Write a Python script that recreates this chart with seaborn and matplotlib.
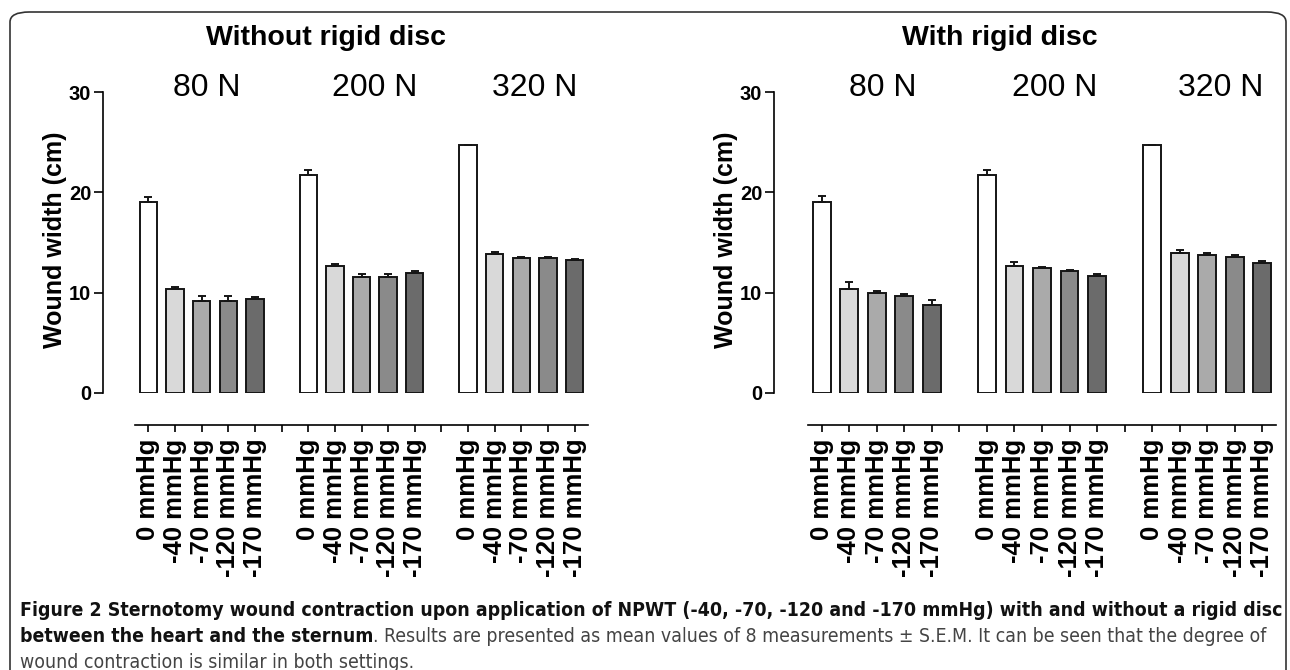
import matplotlib
matplotlib.use("Agg")
import matplotlib.pyplot as plt
import seaborn as sns
import pandas as pd
import numpy as np
from matplotlib.patches import FancyBboxPatch

# ---------------- data ----------------
forces = ["80 N", "200 N", "320 N"]
pressures = ["0 mmHg", "-40 mmHg", "-70 mmHg", "-120 mmHg", "-170 mmHg"]
panel_titles = ["Without rigid disc", "With rigid disc"]
y_label = "Wound width (cm)"
y_ticks = [0, 10, 20, 30]

without_mean_80 = [19.0, 10.35, 9.15, 9.15, 9.4]
without_sem_80 = [0.55, 0.22, 0.5, 0.5, 0.15]
without_mean_200 = [21.75, 12.7, 11.6, 11.6, 12.0]
without_sem_200 = [0.45, 0.2, 0.25, 0.25, 0.2]
without_mean_320 = [24.7, 13.9, 13.5, 13.5, 13.3]
without_sem_320 = [0.05, 0.17, 0.08, 0.08, 0.08]

with_mean_80 = [19.0, 10.35, 10.0, 9.7, 8.8]
with_sem_80 = [0.6, 0.7, 0.15, 0.15, 0.45]
with_mean_200 = [21.75, 12.65, 12.45, 12.15, 11.7]
with_sem_200 = [0.45, 0.4, 0.15, 0.15, 0.12]
with_mean_320 = [24.7, 13.95, 13.8, 13.6, 13.0]
with_sem_320 = [0.05, 0.3, 0.15, 0.15, 0.15]

bar_colors = ["#ffffff", "#d9d9d9", "#aaaaaa", "#8a8a8a", "#6b6b6b"]

caption_bold1 = ("Figure 2 Sternotomy wound contraction upon application of NPWT "
                 "(-40, -70, -120 and -170 mmHg) with and without a rigid disc")
caption_bold2 = "between the heart and the sternum"
caption_norm2 = (". Results are presented as mean values of 8 measurements \u00b1 S.E.M. "
                 "It can be seen that the degree of")
caption_norm3 = "wound contraction is similar in both settings."


def make_df(means, sems):
    rows = []
    for f, ms, ss in zip(forces, means, sems):
        for p, m, s in zip(pressures, ms, ss):
            rows.append({"slot": f"{f}|{p}", "force": f, "pressure": p,
                         "mean": m, "sem": s})
    return pd.DataFrame(rows)


df_without = make_df([without_mean_80, without_mean_200, without_mean_320],
                     [without_sem_80, without_sem_200, without_sem_320])
df_with = make_df([with_mean_80, with_mean_200, with_mean_320],
                  [with_sem_80, with_sem_200, with_sem_320])

order = []
for i, f in enumerate(forces):
    order += [f"{f}|{p}" for p in pressures]
    if i < len(forces) - 1:
        order.append(f"gap{i}")

# ---------------- style ----------------
sns.set_theme(style="ticks")
plt.rcParams["font.family"] = ["Liberation Sans", "DejaVu Sans"]
plt.rcParams["axes.edgecolor"] = "black"
plt.rcParams["xtick.color"] = "black"
plt.rcParams["ytick.color"] = "black"
plt.rcParams["text.color"] = "black"

W, H = 1290, 670
fig = plt.figure(figsize=(W / 100, H / 100), dpi=100)


def fx(px):
    return px / W


def fy(py):
    return 1 - py / H


panels = [
    dict(df=df_without, x0=135, x1=588, yoff=32, title=panel_titles[0],
         title_x=326, ylab_x=55, lab_shift=[0.2, 0.5, 0.5]),
    dict(df=df_with, x0=808, x1=1276, yoff=34, title=panel_titles[1],
         title_x=1000, ylab_x=726, lab_shift=[0.2, 0.45, 0.5]),
]
y_top, y_bot = 92, 393

for p in panels:
    ax = fig.add_axes([fx(p["x0"]), fy(y_bot), fx(p["x1"] - p["x0"]),
                       (y_bot - y_top) / H])
    df = p["df"]
    sns.barplot(data=df, x="slot", y="mean", hue="pressure", hue_order=pressures,
                palette=bar_colors, order=order, dodge=False, width=0.65,
                errorbar=None, edgecolor="#151515", linewidth=1.4,
                legend=False, ax=ax)
    pos = [order.index(s) for s in df["slot"]]
    ax.errorbar(pos, df["mean"], yerr=[np.zeros(len(df)), df["sem"].values],
                fmt="none", ecolor="#151515", elinewidth=1.4, capsize=2.6,
                capthick=1.4, zorder=3)
    sns.despine(ax=ax)
    ax.spines["left"].set_position(("outward", p["yoff"] * 0.72))
    ax.spines["bottom"].set_position(("outward", 23))
    ax.set_xlim(-0.5, len(order) - 0.5)
    ax.set_ylim(0, 30)
    ax.spines["left"].set_bounds(0, 30)
    for sp in ("left", "bottom"):
        ax.spines[sp].set_linewidth(1.2)
    ax.set_yticks(y_ticks)
    ax.set_yticklabels([str(t) for t in y_ticks])
    ax.set_xticks(range(len(order)))
    ax.set_xticklabels([s.split("|")[1] if "|" in s else "" for s in order])
    ax.tick_params(axis="y", direction="out", length=6.5, width=1.2, pad=2,
                   labelsize=14.5)
    ax.tick_params(axis="x", direction="out", length=5, width=1.2, pad=5,
                   labelsize=18.5, labelrotation=90)
    for lab in ax.get_xticklabels() + ax.get_yticklabels():
        lab.set_fontweight("bold")
    for lab in ax.get_xticklabels():
        lab.set_verticalalignment("top")
        lab.set_horizontalalignment("center")
    ax.set_xlabel("")
    ax.set_ylabel("")
    ax.patch.set_alpha(0)

    # group labels
    for gi, f in enumerate(forces):
        center = order.index(f"{f}|{pressures[2]}") + p["lab_shift"][gi]
        ax.annotate(f, xy=(center, fy(88)), xycoords=("data", "figure fraction"),
                    ha="center", va="center", fontsize=23, annotation_clip=False)

    fig.text(fx(p["title_x"]), fy(38), p["title"], ha="center", va="center",
             fontsize=20.5, fontweight="bold")
    fig.text(fx(p["ylab_x"]), fy(240), y_label, rotation=90, ha="center",
             va="center", fontsize=18, fontweight="bold")

# ---------------- frame ----------------
frame = FancyBboxPatch((fx(10), fy(720)), fx(1276), (720 - 12) / H,
                       boxstyle="round,pad=0,rounding_size=0.015",
                       transform=fig.transFigure, fill=False,
                       edgecolor="#333333", linewidth=1.2, clip_on=False)
fig.patches.append(frame)

# ---------------- caption ----------------
cap_family = ["DejaVu Sans"]
cap_kw = dict(family=cap_family, stretch="condensed", va="center", ha="left")
cap_x = 20
t1 = fig.text(fx(cap_x), fy(610), caption_bold1, fontsize=13, fontweight="bold",
              color="#111111", **cap_kw)
fig.canvas.draw()
r = fig.canvas.get_renderer()
w1 = t1.get_window_extent(r).width
fs = 13 * (1258 / w1)
t1.set_fontsize(fs)

t2 = fig.text(fx(cap_x), fy(637), caption_bold2, fontsize=fs, fontweight="bold",
              color="#111111", **cap_kw)
fig.canvas.draw()
w2 = t2.get_window_extent(r).width
fig.text(fx(cap_x + w2), fy(637), caption_norm2, fontsize=fs,
         color="#444444", **cap_kw)
fig.text(fx(cap_x), fy(662), caption_norm3, fontsize=fs,
         color="#444444", **cap_kw)

fig.savefig("out.png", dpi=100)
